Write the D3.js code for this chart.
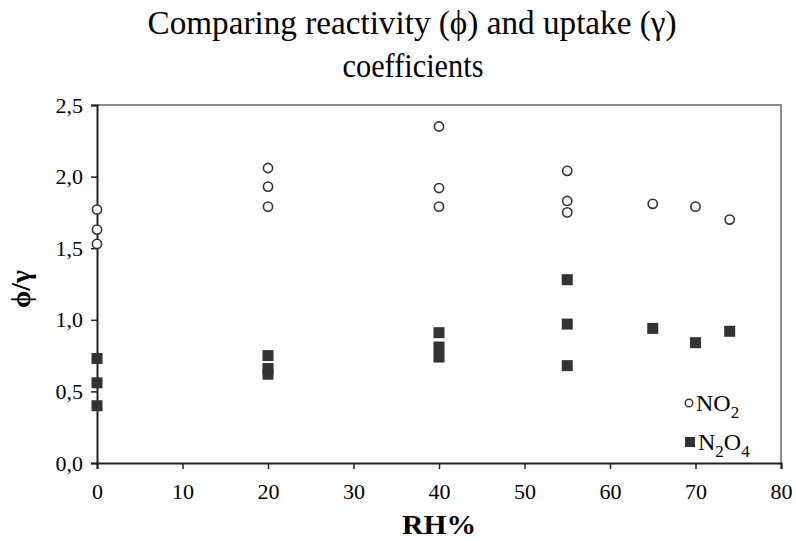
<!DOCTYPE html>
<html><head><meta charset="utf-8">
<script src="https://cdn.jsdelivr.net/npm/d3@7"></script>
<style>body{margin:0;background:#fff}svg{display:block}</style>
</head><body>
<script>
const no2RH = [0,0,0,20,20,20,40,40,40,55,55,55,65,70,74];
const no2Val = [1.77,1.63,1.53,2.06,1.93,1.79,2.35,1.92,1.79,2.04,1.83,1.75,1.81,1.79,1.70];
const n2o4RH = [0,0,0,20,20,20,40,40,40,55,55,55,65,70,74];
const n2o4Val = [0.73,0.56,0.40,0.75,0.66,0.62,0.91,0.81,0.74,1.28,0.97,0.68,0.94,0.84,0.92];
const xTicks = [0,10,20,30,40,50,60,70,80];
const yTicks = [0,0.5,1.0,1.5,2.0,2.5];
const titleLines = ["Comparing reactivity (\u03D5) and uptake (\u03B3)","coefficients"];

const FF = "'Liberation Serif', 'Times New Roman', Times, serif";
const W=796,H=541;
const svg=d3.select("body").append("svg").attr("width",W).attr("height",H);
const x=d3.scaleLinear().domain([0,80]).range([97,781]);
const y=d3.scaleLinear().domain([0,2.5]).range([463,105]);

// title
svg.append("text").attr("x",412).attr("y",34).attr("text-anchor","middle").style("font-family",FF)
  .style("font-size","34px").attr("textLength",529).attr("lengthAdjust","spacingAndGlyphs").text(titleLines[0]);
svg.append("text").attr("x",413).attr("y",77).attr("text-anchor","middle").style("font-family",FF)
  .style("font-size","34px").attr("textLength",141).attr("lengthAdjust","spacingAndGlyphs").text(titleLines[1]);

// frame top/right
svg.append("path").attr("d",`M${x(0)},${y(2.5)}H${x(80)}V${y(0)}`).attr("fill","none").attr("stroke","#8c8c8c").attr("stroke-width",2);

const fmt=d=>d3.format(".1f")(d).replace(".",",");
const ya=svg.append("g").attr("transform",`translate(${x(0)},0)`)
  .call(d3.axisLeft(y).tickValues(yTicks).tickFormat(fmt).tickSize(6).tickPadding(8));
ya.select(".domain").attr("stroke","#222").attr("stroke-width",2);
ya.selectAll(".tick line").attr("stroke","#222").attr("stroke-width",1.5);
ya.selectAll(".tick text").style("font-size","22px").style("font-family",FF).attr("fill","#000");

const xa=svg.append("g").attr("transform",`translate(0,${y(0)})`)
  .call(d3.axisBottom(x).tickValues(xTicks).tickSize(6).tickPadding(14));
xa.select(".domain").attr("stroke","#222").attr("stroke-width",2);
xa.selectAll(".tick line").attr("stroke","#222").attr("stroke-width",1.5);
xa.selectAll(".tick text").style("font-size","22px").style("font-family",FF).attr("fill","#000");

svg.append("text").attr("x",439).attr("y",534).attr("text-anchor","middle").style("font-family",FF).style("font-size","27px").style("font-weight","bold")
  .attr("textLength",74).attr("lengthAdjust","spacingAndGlyphs").text("RH%");
svg.append("text").attr("transform","translate(30,289) rotate(-90)").attr("text-anchor","middle").style("font-family",FF).style("font-size","28px").style("font-weight","bold")
  .attr("textLength",38).attr("lengthAdjust","spacingAndGlyphs").text("\u03D5/\u03B3");

// data
const n2o4=n2o4RH.map((r,i)=>({r,v:n2o4Val[i]}));
const no2=no2RH.map((r,i)=>({r,v:no2Val[i]}));
svg.append("g").selectAll("rect").data(n2o4).join("rect")
  .attr("x",d=>x(d.r)-5.5).attr("y",d=>y(d.v)-5.5).attr("width",11).attr("height",11).attr("fill","#333");
svg.append("g").selectAll("circle").data(no2).join("circle")
  .attr("cx",d=>x(d.r)).attr("cy",d=>y(d.v)).attr("r",4.6).attr("fill","#fff").attr("stroke","#333").attr("stroke-width",1.6);

// legend
const lg=svg.append("g").style("font-family",FF);
lg.append("circle").attr("cx",689).attr("cy",403).attr("r",3.8).attr("fill","#fff").attr("stroke","#333").attr("stroke-width",1.4);
const t1=lg.append("text").attr("x",696).attr("y",411).style("font-size","24px");
t1.append("tspan").text("NO");
t1.append("tspan").style("font-size","17px").attr("dy",7).text("2");
lg.append("rect").attr("x",685).attr("y",437).attr("width",10).attr("height",10).attr("fill","#333");
const t2=lg.append("text").attr("x",698).attr("y",450).style("font-size","24px");
t2.append("tspan").text("N");
t2.append("tspan").style("font-size","17px").attr("dy",7).text("2");
t2.append("tspan").attr("dy",-7).text("O");
t2.append("tspan").style("font-size","17px").attr("dy",7).text("4");
</script>
</body></html>
